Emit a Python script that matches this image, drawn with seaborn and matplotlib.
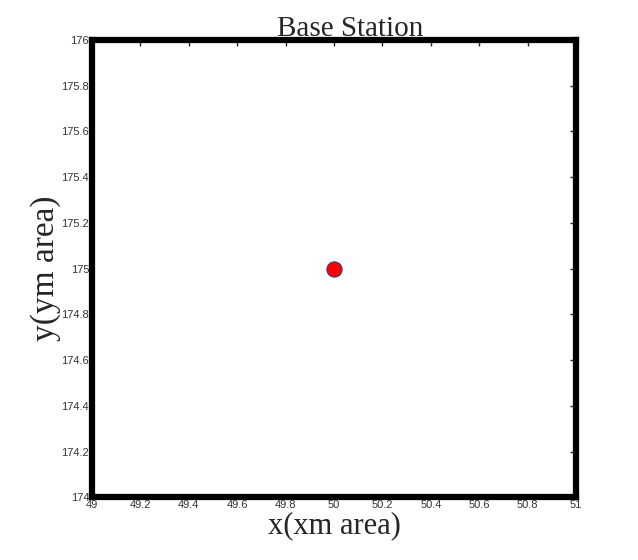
import pandas as pd
import matplotlib
matplotlib.use("Agg")
import matplotlib.pyplot as plt
import seaborn as sns

# Base station position
station_x = [50.0]
station_y = [175.0]
x_ticks = [49, 49.2, 49.4, 49.6, 49.8, 50, 50.2, 50.4, 50.6, 50.8, 51]
y_ticks = [174, 174.2, 174.4, 174.6, 174.8, 175, 175.2, 175.4, 175.6, 175.8, 176]

df = pd.DataFrame({"x": station_x, "y": station_y})

sns.set_style("white")
plt.rcParams["font.family"] = ["Liberation Sans", "DejaVu Sans"]

fig = plt.figure(figsize=(6.38, 5.6), dpi=100)
ax = fig.add_axes([0.144, 0.112, 0.759, 0.817])

sns.scatterplot(x="x", y="y", data=df, ax=ax, color="red", edgecolor="#3a3a7a",
                linewidth=0.8, s=120, marker="o", zorder=3)

ax.set_xlim(49, 51)
ax.set_ylim(174, 176)
ax.set_xticks(x_ticks)
ax.set_yticks(y_ticks)
ax.set_xticklabels([f"{t:g}" for t in x_ticks], fontsize=8, color="#333333")
ax.set_yticklabels([f"{t:g}" for t in y_ticks], fontsize=8, color="#333333")
ax.tick_params(direction="in", length=4, width=1, top=True, right=True, pad=2)

for side in ["left", "right", "top", "bottom"]:
    ax.spines[side].set_visible(True)
    ax.spines[side].set_linewidth(4.5)
    ax.spines[side].set_color("black")

ax.set_title("Base Station", fontsize=21, family="Liberation Serif", x=0.533, pad=3)
ax.set_xlabel("x(xm area)", fontsize=22, family="Liberation Serif", labelpad=1)
ax.set_ylabel("y(ym area)", fontsize=24, family="Liberation Serif", labelpad=0)

fig.savefig("out.png", dpi=100)
